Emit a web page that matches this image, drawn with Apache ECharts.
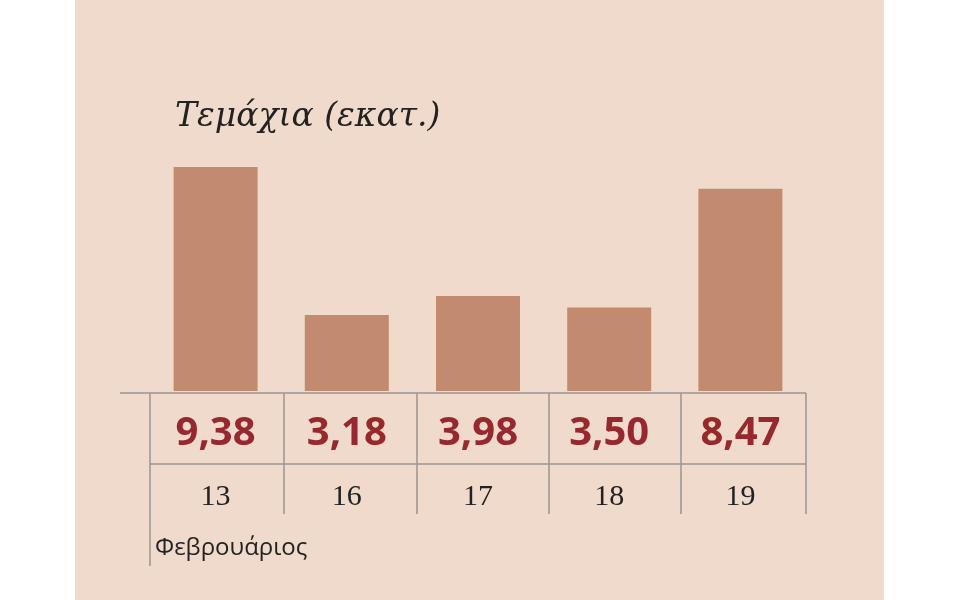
<!DOCTYPE html>
<html>
<head>
<meta charset="utf-8">
<script src="https://cdn.jsdelivr.net/npm/echarts@6/dist/echarts.min.js"></script>
<style>
  html, body { margin: 0; padding: 0; background: #fff; }
  #chart { width: 960px; height: 600px; }
</style>
</head>
<body>
<div id="chart"></div>
<script>
const days = ["13", "16", "17", "18", "19"];
const values = [9.38, 3.18, 3.98, 3.50, 8.47];
const monthLabel = "Φεβρουάριος";
const titleText = "Τεμάχια (εκατ.)";

const chart = echarts.init(document.getElementById("chart"), null, { renderer: "canvas" });

const fmt = (v) => v.toFixed(2).replace(".", ",");
const lineStyle = { stroke: "#9a9490", lineWidth: 1.5 };
const colX = [150, 284, 417, 549, 681, 806];

// table grid lines
const lines = [
  { type: "line", shape: { x1: 120, y1: 393, x2: 806, y2: 393 }, style: lineStyle },
  { type: "line", shape: { x1: 150, y1: 464, x2: 806, y2: 464 }, style: lineStyle },
  { type: "line", shape: { x1: 150, y1: 393, x2: 150, y2: 566 }, style: lineStyle },
];
for (const x of colX.slice(1)) {
  lines.push({ type: "line", shape: { x1: x, y1: 393, x2: x, y2: 514 }, style: lineStyle });
}

chart.setOption({
  backgroundColor: "#fff",
  animation: false,
  graphic: [
    { type: "rect", z: -10, shape: { x: 75, y: 0, width: 809, height: 600 }, style: { fill: "#f0dacb" } },
    ...lines,
    { type: "text", left: 155, top: 536, style: { text: monthLabel, font: "24px 'Open Sans', sans-serif", fill: "#222" } },
  ],
  title: {
    text: titleText,
    left: 170, top: 96,
    textStyle: { fontFamily: "'DejaVu Serif', serif", fontStyle: "italic", fontWeight: "normal", fontSize: 33, color: "#222" },
  },
  grid: { left: 150, right: 154, top: 100, bottom: 209 },
  xAxis: {
    type: "category",
    data: days,
    axisLine: { show: false },
    axisTick: { show: false },
    axisLabel: {
      margin: 8,
      formatter: (d, i) => "{v|" + fmt(values[i]) + "}\n{d|" + d + "}",
      rich: {
        v: { fontFamily: "'Open Sans', sans-serif", fontWeight: "bold", fontSize: 40, color: "#96282e", lineHeight: 70 },
        d: { fontFamily: "'Liberation Serif', serif", fontSize: 30, color: "#222", lineHeight: 56 },
      },
    },
  },
  yAxis: { type: "value", min: 0, max: 12.18, show: false },
  series: [{
    type: "bar",
    data: values,
    barWidth: 84,
    itemStyle: { color: "#c28a6e" },
  }],
});
</script>
</body>
</html>
